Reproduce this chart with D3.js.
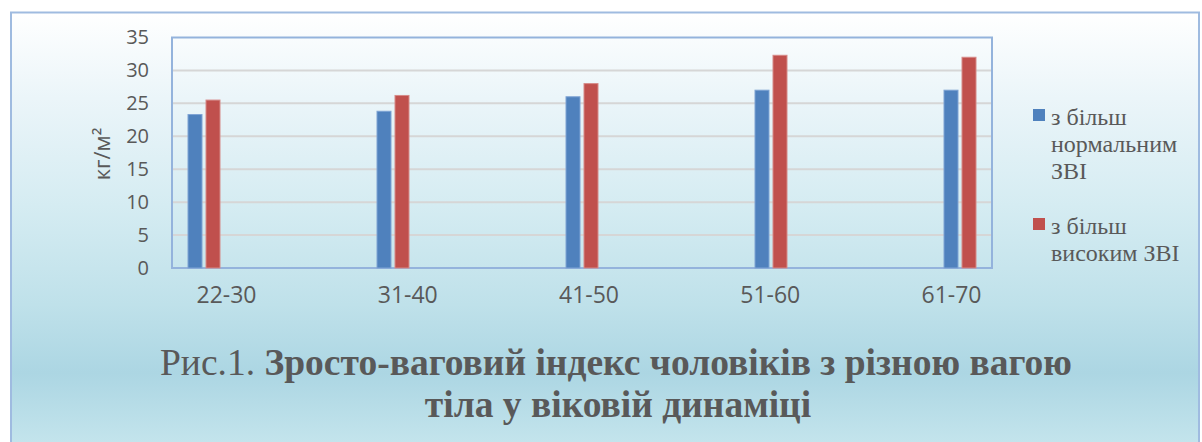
<!DOCTYPE html>
<html>
<head>
<meta charset="utf-8">
<script src="https://cdn.jsdelivr.net/npm/d3@7"></script>
<style>
	body { margin: 0; background: #ffffff; }
	svg { display: block; }
</style>
</head>
<body>
<script>
	// data
	var ageGroups = ["22-30", "31-40", "41-50", "51-60", "61-70"];
	var normalBmi = [23.3, 23.8, 26.0, 27.0, 27.0];
	var highBmi = [25.5, 26.2, 28.0, 32.3, 32.0];
	var yTicks = [0, 5, 10, 15, 20, 25, 30, 35];
	var seriesColors = ["#4f81bd", "#c0504d"];
	var legendLines = [["з більш", "нормальним", "ЗВІ"], ["з більш", "високим ЗВІ"]];
	var yLabel = "кг/м²";
	var captionPlain = "Рис.1. ";
	var captionBold = "Зросто-ваговий індекс чоловіків з різною вагою";
	var captionLine2 = "тіла у віковій динаміці";

	var svg_w = 1202;
	var svg_h = 442;
	var svg = d3.select("body").append("svg")
		.attr("width", svg_w)
		.attr("height", svg_h);

	var textColor = "#595959";

	// background gradient of the chart frame
	var defs = svg.append("defs");
	var grad = defs.append("linearGradient")
		.attr("id", "bg")
		.attr("gradientUnits", "userSpaceOnUse")
		.attr("x1", 0).attr("y1", 12)
		.attr("x2", 0).attr("y2", 442);
	[[0, "#ffffff"], [0.2, "#ebf5f9"], [0.45, "#d5ecf2"], [0.68, "#bfe1ea"], [0.84, "#acd6e3"], [1, "#c3e4ec"]]
		.forEach(function(s) {
			grad.append("stop").attr("offset", s[0]).attr("stop-color", s[1]);
		});

	svg.append("rect")
		.attr("x", 11).attr("y", 12.5)
		.attr("width", 1188).attr("height", 450)
		.attr("fill", "url(#bg)")
		.attr("stroke", "#9fbbe0")
		.attr("stroke-width", 2);

	// plot area
	var plot = { left: 172, top: 37.5, right: 992, bottom: 268 };

	var y = d3.scaleLinear()
		.domain([0, 35])
		.range([plot.bottom, plot.top]);

	// group centres of the bar pairs
	var x = d3.scalePoint()
		.domain(ageGroups)
		.range([204, 960]);

	// category labels sit a bit off the bars in the original
	var xLabel = d3.scalePoint()
		.domain(ageGroups)
		.range([226, 951]);

	// gridlines
	svg.append("g")
		.selectAll("line")
		.data(yTicks.filter(function(d) { return d > 0 && d < 35; }))
		.enter()
		.append("line")
		.attr("x1", plot.left).attr("x2", plot.right)
		.attr("y1", function(d) { return y(d); })
		.attr("y2", function(d) { return y(d); })
		.attr("stroke", "#d6d6d6")
		.attr("stroke-width", 2);

	// plot border
	svg.append("rect")
		.attr("x", plot.left).attr("y", plot.top)
		.attr("width", plot.right - plot.left)
		.attr("height", plot.bottom - plot.top)
		.attr("fill", "none")
		.attr("stroke", "#94b3dc")
		.attr("stroke-width", 2);

	// y axis tick labels
	var yAxis = d3.axisLeft(y).tickValues(yTicks).tickSize(0).tickPadding(0);
	var yg = svg.append("g")
		.attr("transform", "translate(149,0)")
		.call(yAxis);
	yg.select(".domain").remove();
	yg.selectAll("text")
		.attr("fill", textColor)
		.attr("font-family", "'Open Sans', sans-serif")
		.attr("font-size", 20);

	// x axis labels
	var xAxis = d3.axisBottom(xLabel).tickSize(0).tickPadding(0);
	var xg = svg.append("g")
		.attr("transform", "translate(0,287)")
		.call(xAxis);
	xg.select(".domain").remove();
	xg.selectAll("text")
		.attr("fill", textColor)
		.attr("font-family", "'Open Sans', sans-serif")
		.attr("font-size", 23);

	// y label
	svg.append("text")
		.attr("transform", "translate(110,154) rotate(-90)")
		.attr("text-anchor", "middle")
		.attr("fill", textColor)
		.attr("font-family", "'Open Sans', sans-serif")
		.attr("font-size", 22)
		.text(yLabel);

	// bars
	var barW = 14;
	var series = [normalBmi, highBmi];
	var offsets = [-16, 2];
	var strokeColors = ["#7ea3d4", "#d68a88"];

	series.forEach(function(vals, si) {
		svg.append("g")
			.selectAll("rect")
			.data(vals)
			.enter()
			.append("rect")
			.attr("x", function(d, i) { return x(ageGroups[i]) + offsets[si]; })
			.attr("y", function(d) { return y(d); })
			.attr("width", barW)
			.attr("height", function(d) { return y(0) - y(d); })
			.attr("fill", seriesColors[si])
			.attr("stroke", strokeColors[si])
			.attr("stroke-width", 1);
	});

	// legend
	var legendTop = [109, 218];
	legendLines.forEach(function(lines, li) {
		var g = svg.append("g");
		g.append("rect")
			.attr("x", 1033).attr("y", legendTop[li])
			.attr("width", 12).attr("height", 12)
			.attr("fill", seriesColors[li]);
		g.selectAll("text")
			.data(lines)
			.enter()
			.append("text")
			.attr("x", 1051)
			.attr("y", function(d, i) { return legendTop[li] + 16 + i * 27; })
			.attr("fill", textColor)
			.attr("font-family", "'Liberation Serif', 'Times New Roman', serif")
			.attr("font-size", 24)
			.text(function(d) { return d; });
	});

	// caption
	var cap1 = svg.append("text")
		.attr("x", 616).attr("y", 375)
		.attr("text-anchor", "middle")
		.attr("fill", textColor)
		.attr("font-family", "'Liberation Serif', 'Times New Roman', serif")
		.attr("font-size", 37.5);
	cap1.append("tspan").text(captionPlain);
	cap1.append("tspan").attr("font-weight", "bold").text(captionBold);

	svg.append("text")
		.attr("x", 618).attr("y", 417)
		.attr("text-anchor", "middle")
		.attr("fill", textColor)
		.attr("font-family", "'Liberation Serif', 'Times New Roman', serif")
		.attr("font-size", 37.5)
		.attr("font-weight", "bold")
		.text(captionLine2);
</script>
</body>
</html>
